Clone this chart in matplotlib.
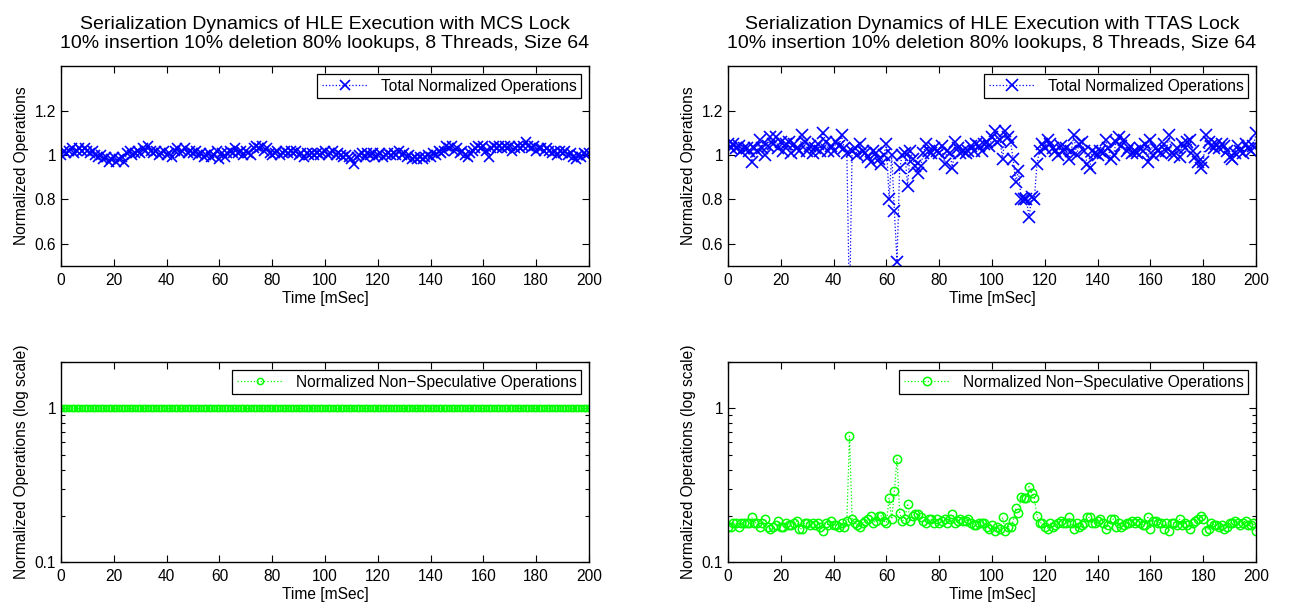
import numpy as np
import matplotlib
matplotlib.use('Agg')
from matplotlib import pyplot as plt
from matplotlib.ticker import FixedLocator, NullFormatter, LogLocator

plt.rcParams['font.family'] = ['Liberation Sans', 'DejaVu Sans']

# time axis (mSec)
time_ms = np.arange(0, 201, 1)

# MCS lock: total normalized operations
mcs_total = [
    1.00, 1.02, 1.01, 1.02, 1.03, 1.01, 1.02, 1.03, 1.02, 1.03,
    1.02, 1.01, 1.02, 1.00, 0.99, 1.00, 0.98, 0.99, 0.97, 0.98,
    0.99, 0.97, 0.98, 0.99, 0.97, 1.01, 1.02, 1.00, 1.01, 1.02,
    1.01, 1.03, 1.02, 1.04, 1.02, 1.01, 1.02, 1.00, 1.01, 1.02,
    1.00, 1.01, 0.99, 1.02, 1.03, 1.01, 1.02, 1.03, 1.01, 1.02,
    1.01, 1.02, 1.00, 1.01, 0.99, 1.00, 1.01, 0.99, 1.00, 1.02,
    0.98, 1.01, 0.99, 1.01, 1.02, 1.01, 1.03, 1.01, 1.02, 1.00,
    1.02, 1.01, 1.00, 1.03, 1.04, 1.03, 1.04, 1.02, 1.03, 1.01,
    1.00, 1.01, 1.02, 1.00, 1.01, 1.02, 1.01, 1.02, 1.01, 1.02,
    1.00, 1.01, 0.99, 1.01, 1.00, 1.01, 1.00, 1.01, 1.00, 1.01,
    1.02, 1.00, 1.01, 1.02, 1.00, 1.01, 1.00, 0.99, 1.00, 0.99,
    0.98, 0.96, 0.99, 1.00, 1.01, 0.99, 1.01, 1.00, 1.01, 0.99,
    1.00, 1.01, 0.99, 1.00, 1.01, 1.00, 1.01, 1.00, 1.02, 1.00,
    1.01, 0.99, 1.00, 0.98, 0.99, 0.98, 0.99, 0.98, 0.99, 1.00,
    0.99, 1.01, 1.00, 1.02, 1.01, 1.02, 1.04, 1.03, 1.04, 1.02,
    1.03, 1.01, 1.02, 1.00, 0.99, 1.01, 1.02, 1.03, 1.04, 1.03,
    1.04, 1.02, 0.99, 1.03, 1.04, 1.03, 1.04, 1.03, 1.04, 1.03,
    1.04, 1.02, 1.03, 1.04, 1.03, 1.04, 1.06, 1.04, 1.03, 1.04,
    1.02, 1.03, 1.03, 1.02, 1.03, 1.02, 1.01, 1.02, 1.00, 1.02,
    1.01, 1.02, 1.00, 1.01, 0.99, 0.98, 1.00, 0.99, 1.01, 1.00,
    1.01]

# MCS lock: non-speculative operations (always serialized)
mcs_nonspec = [
    1.0, 1.0, 1.0, 1.0, 1.0, 1.0, 1.0, 1.0, 1.0, 1.0, 1.0, 1.0, 1.0, 1.0, 1.0, 1.0, 1.0, 1.0, 1.0, 1.0,
    1.0, 1.0, 1.0, 1.0, 1.0, 1.0, 1.0, 1.0, 1.0, 1.0, 1.0, 1.0, 1.0, 1.0, 1.0, 1.0, 1.0, 1.0, 1.0, 1.0,
    1.0, 1.0, 1.0, 1.0, 1.0, 1.0, 1.0, 1.0, 1.0, 1.0, 1.0, 1.0, 1.0, 1.0, 1.0, 1.0, 1.0, 1.0, 1.0, 1.0,
    1.0, 1.0, 1.0, 1.0, 1.0, 1.0, 1.0, 1.0, 1.0, 1.0, 1.0, 1.0, 1.0, 1.0, 1.0, 1.0, 1.0, 1.0, 1.0, 1.0,
    1.0, 1.0, 1.0, 1.0, 1.0, 1.0, 1.0, 1.0, 1.0, 1.0, 1.0, 1.0, 1.0, 1.0, 1.0, 1.0, 1.0, 1.0, 1.0, 1.0,
    1.0, 1.0, 1.0, 1.0, 1.0, 1.0, 1.0, 1.0, 1.0, 1.0, 1.0, 1.0, 1.0, 1.0, 1.0, 1.0, 1.0, 1.0, 1.0, 1.0,
    1.0, 1.0, 1.0, 1.0, 1.0, 1.0, 1.0, 1.0, 1.0, 1.0, 1.0, 1.0, 1.0, 1.0, 1.0, 1.0, 1.0, 1.0, 1.0, 1.0,
    1.0, 1.0, 1.0, 1.0, 1.0, 1.0, 1.0, 1.0, 1.0, 1.0, 1.0, 1.0, 1.0, 1.0, 1.0, 1.0, 1.0, 1.0, 1.0, 1.0,
    1.0, 1.0, 1.0, 1.0, 1.0, 1.0, 1.0, 1.0, 1.0, 1.0, 1.0, 1.0, 1.0, 1.0, 1.0, 1.0, 1.0, 1.0, 1.0, 1.0,
    1.0, 1.0, 1.0, 1.0, 1.0, 1.0, 1.0, 1.0, 1.0, 1.0, 1.0, 1.0, 1.0, 1.0, 1.0, 1.0, 1.0, 1.0, 1.0, 1.0,
    1.0]

# TTAS lock: total normalized operations
ttas_total = [
    1.05, 1.03, 1.05, 1.03, 1.04, 1.02, 1.03, 1.03, 1.02, 0.97,
    1.03, 1.02, 1.07, 1.03, 1.00, 1.04, 1.08, 1.05, 1.08, 1.03,
    1.06, 1.02, 1.05, 1.06, 1.01, 1.05, 1.03, 1.02, 1.09, 1.06,
    1.02, 1.04, 1.01, 1.03, 1.05, 1.02, 1.10, 1.06, 1.02, 1.04,
    1.02, 1.06, 1.04, 1.09, 1.03, 1.01, 0.30, 1.02, 1.03, 1.00,
    1.05, 1.02, 1.01, 0.99, 0.97, 1.02, 1.01, 0.98, 0.96, 1.00,
    1.05, 0.80, 1.00, 0.75, 0.52, 0.94, 1.00, 1.01, 0.86, 1.02,
    0.98, 0.95, 0.92, 0.95, 1.01, 1.05, 1.02, 1.01, 1.03, 1.02,
    1.01, 1.04, 0.96, 1.02, 1.01, 0.94, 1.06, 1.03, 1.01, 1.02,
    1.01, 1.02, 1.04, 1.02, 1.05, 1.04, 1.02, 1.05, 1.06, 1.04,
    1.08, 1.11, 1.06, 1.07, 0.98, 1.11, 1.08, 1.06, 0.98, 0.88,
    0.93, 0.80, 0.80, 0.80, 0.72, 0.81, 0.80, 0.96, 1.02, 1.05,
    1.03, 1.07, 1.05, 1.03, 1.02, 1.00, 1.04, 1.02, 1.03, 0.98,
    1.02, 1.09, 1.00, 1.05, 1.06, 1.02, 0.96, 0.94, 1.02, 1.01,
    1.00, 1.02, 1.01, 1.07, 1.03, 0.98, 1.00, 1.06, 1.08, 1.04,
    1.07, 1.02, 1.03, 1.01, 1.02, 1.01, 1.03, 1.02, 1.05, 0.97,
    1.07, 1.00, 1.03, 1.02, 1.01, 1.05, 1.02, 1.09, 1.01, 1.00,
    1.03, 0.99, 1.05, 1.03, 1.06, 1.07, 1.02, 0.99, 0.97, 0.94,
    0.97, 1.09, 1.06, 1.04, 1.03, 1.05, 1.03, 1.05, 1.04, 1.02,
    0.99, 0.98, 1.01, 1.04, 1.02, 1.01, 1.05, 1.03, 1.02, 1.04,
    1.10]

# TTAS lock: non-speculative operations
ttas_nonspec = [
    0.170, 0.170, 0.180, 0.180, 0.170, 0.180, 0.180, 0.180, 0.180, 0.195,
    0.180, 0.180, 0.170, 0.180, 0.190, 0.170, 0.165, 0.170, 0.175, 0.185,
    0.170, 0.170, 0.180, 0.175, 0.175, 0.180, 0.185, 0.165, 0.165, 0.180,
    0.180, 0.175, 0.180, 0.175, 0.180, 0.170, 0.160, 0.180, 0.175, 0.185,
    0.175, 0.175, 0.170, 0.180, 0.170, 0.185, 0.660, 0.190, 0.180, 0.175,
    0.170, 0.180, 0.185, 0.190, 0.200, 0.180, 0.185, 0.200, 0.200, 0.185,
    0.180, 0.260, 0.190, 0.290, 0.470, 0.210, 0.185, 0.190, 0.240, 0.185,
    0.200, 0.205, 0.205, 0.195, 0.185, 0.180, 0.190, 0.190, 0.180, 0.190,
    0.180, 0.185, 0.190, 0.180, 0.190, 0.205, 0.180, 0.185, 0.190, 0.185,
    0.185, 0.190, 0.180, 0.175, 0.175, 0.180, 0.180, 0.180, 0.170, 0.165,
    0.175, 0.160, 0.170, 0.165, 0.195, 0.160, 0.170, 0.170, 0.185, 0.225,
    0.210, 0.265, 0.260, 0.260, 0.310, 0.280, 0.260, 0.200, 0.180, 0.180,
    0.170, 0.165, 0.180, 0.170, 0.175, 0.180, 0.185, 0.180, 0.180, 0.195,
    0.180, 0.165, 0.180, 0.170, 0.175, 0.180, 0.195, 0.195, 0.180, 0.180,
    0.185, 0.190, 0.180, 0.165, 0.175, 0.190, 0.190, 0.170, 0.180, 0.170,
    0.175, 0.180, 0.180, 0.185, 0.180, 0.185, 0.180, 0.175, 0.175, 0.195,
    0.165, 0.185, 0.185, 0.180, 0.180, 0.165, 0.180, 0.160, 0.180, 0.180,
    0.175, 0.190, 0.175, 0.180, 0.175, 0.165, 0.180, 0.185, 0.190, 0.200,
    0.190, 0.160, 0.165, 0.180, 0.175, 0.175, 0.170, 0.175, 0.165, 0.170,
    0.180, 0.180, 0.185, 0.180, 0.175, 0.180, 0.185, 0.175, 0.175, 0.180,
    0.160]

titles = ['Serialization Dynamics of HLE Execution with MCS Lock\n'
          '10% insertion 10% deletion 80% lookups, 8 Threads, Size 64',
          'Serialization Dynamics of HLE Execution with TTAS Lock\n'
          '10% insertion 10% deletion 80% lookups, 8 Threads, Size 64']

FS = 11.2


def style_axis(ax):
    ax.set_xlim(0, 200)
    ax.xaxis.set_major_locator(FixedLocator(np.arange(0, 201, 20)))
    ax.tick_params(which='both', direction='in', top=True, right=True, labelsize=FS, width=0.8)
    ax.tick_params(axis='x', pad=5)
    ax.tick_params(which='major', length=5)
    ax.tick_params(which='minor', length=3)
    ax.set_xlabel('Time [mSec]', fontsize=FS, labelpad=2)
    for s in ax.spines.values():
        s.set_linewidth(1.0)


fig = plt.figure(figsize=(12.92, 6.02), dpi=100)
lefts = [0.0472, 0.5635]
width = 0.4087
top_ax = [fig.add_axes([l, 0.558, width, 0.332]) for l in lefts]
bot_ax = [fig.add_axes([l, 0.0664, width, 0.332]) for l in lefts]

totals = [mcs_total, ttas_total]
nonspecs = [mcs_nonspec, ttas_nonspec]
msize_x = [7.5, 8]
msize_o = [4.5, 6]

for i in range(2):
    ax = top_ax[i]
    ax.plot(time_ms, totals[i], ':', color='blue', marker='x', markersize=msize_x[i],
            markeredgewidth=1.2, linewidth=0.9, label='Total Normalized Operations')
    ax.set_ylim(0.5, 1.4)
    ax.yaxis.set_major_locator(FixedLocator([0.6, 0.8, 1.0, 1.2]))
    ax.set_yticklabels(['0.6', '0.8', '1', '1.2'])
    style_axis(ax)
    ax.set_ylabel('Normalized Operations', fontsize=FS, labelpad=4)
    ax.set_title(titles[i], fontsize=14, pad=13, linespacing=1.2)
    leg = ax.legend(loc='upper right', fontsize=FS, fancybox=False, framealpha=1,
                    edgecolor='black', borderaxespad=0.5, handlelength=3,
                    borderpad=0.3, markerscale=1.0)
    leg.get_frame().set_linewidth(0.9)

    ax = bot_ax[i]
    ax.plot(time_ms, nonspecs[i], ':', color='#00ff00', marker='o', markersize=msize_o[i],
            markerfacecolor='none', markeredgewidth=1.1, linewidth=0.9,
            label='Normalized Non\u2212Speculative Operations')
    ax.set_yscale('log')
    ax.set_ylim(0.1, 2)
    ax.yaxis.set_major_locator(FixedLocator([0.1, 1]))
    ax.set_yticklabels(['0.1', '1'])
    ax.yaxis.set_minor_locator(LogLocator(base=10, subs=np.arange(2, 10)))
    ax.yaxis.set_minor_formatter(NullFormatter())
    style_axis(ax)
    ax.set_ylabel('Normalized Operations (log scale)', fontsize=FS, labelpad=4)
    leg = ax.legend(loc='upper right', fontsize=FS, fancybox=False, framealpha=1,
                    edgecolor='black', borderaxespad=0.5, handlelength=3,
                    borderpad=0.3)
    leg.get_frame().set_linewidth(0.9)

fig.savefig('out.png', dpi=100)
